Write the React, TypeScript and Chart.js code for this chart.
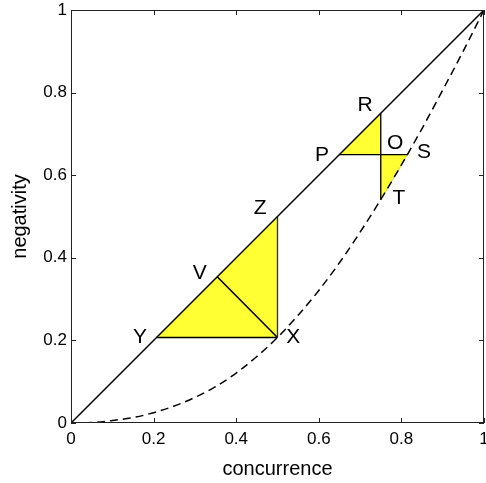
import React, { useEffect, useRef } from 'react';
import { Chart, registerables } from 'chart.js';

Chart.register(...registerables);

// Axis ticks
const xTicks = [0, 0.2, 0.4, 0.6, 0.8, 1];
const yTicks = [0, 0.2, 0.4, 0.6, 0.8, 1];

// Upper bound: negativity = concurrence (solid line)
const diagonalC = [0, 1];
const diagonalN = [0, 1];

// Lower bound (dashed curve)
const boundC = [0, 0.05, 0.1, 0.15, 0.2, 0.25, 0.3, 0.35, 0.4, 0.45, 0.5, 0.55, 0.6, 0.65, 0.7, 0.75, 0.8, 0.85, 0.9, 0.95, 1];
const boundN = [0, 0.001, 0.006, 0.013, 0.025, 0.041, 0.062, 0.088, 0.121, 0.161, 0.207, 0.261, 0.321, 0.388, 0.462, 0.541, 0.625, 0.713, 0.806, 0.901, 1];

// Yellow triangles (vertex coordinates)
const triYXZ_C = [0.207, 0.5, 0.5];
const triYXZ_N = [0.207, 0.207, 0.5];
const triPOR_C = [0.65, 0.75, 0.75];
const triPOR_N = [0.65, 0.65, 0.75];
const triOST_C = [0.75, 0.815, 0.75];
const triOST_N = [0.65, 0.65, 0.54];

// Black segments
const segYX_C = [0.207, 0.5];
const segYX_N = [0.207, 0.207];
const segZX_C = [0.5, 0.5];
const segZX_N = [0.5, 0.207];
const segVX_C = [0.354, 0.5];
const segVX_N = [0.354, 0.207];
const segPS_C = [0.65, 0.815];
const segPS_N = [0.65, 0.65];
const segRT_C = [0.75, 0.75];
const segRT_N = [0.75, 0.54];

// Point labels
const pointNames = ['R', 'O', 'P', 'S', 'T', 'Z', 'V', 'Y', 'X'];
const pointLabelC = [0.712, 0.785, 0.608, 0.855, 0.794, 0.458, 0.312, 0.167, 0.538];
const pointLabelN = [0.770, 0.678, 0.649, 0.656, 0.545, 0.521, 0.363, 0.208, 0.208];

const FONT = '"Liberation Sans", Arial, Helvetica, sans-serif';
const YELLOW = '#ffff33';

const zip = (xs: number[], ys: number[]) => xs.map((x, i) => ({ x, y: ys[i] }));

const lineDs = (xs: number[], ys: number[], extra: any = {}) => ({
  type: 'line' as const,
  data: zip(xs, ys),
  borderColor: '#000',
  borderWidth: 1.3,
  pointRadius: 0,
  fill: false,
  tension: 0,
  order: 1,
  ...extra,
});

const triDs = (xs: number[], ys: number[]) => ({
  type: 'line' as const,
  data: zip([...xs, xs[0]], [...ys, ys[0]]),
  borderWidth: 0.8,
  borderColor: '#c8c830',
  backgroundColor: YELLOW,
  pointRadius: 0,
  fill: 'shape',
  tension: 0,
  order: 2,
});

const framePlugin = {
  id: 'frameAndLabels',
  afterDatasetsDraw(chart: any) {
    const { ctx, chartArea, scales } = chart;
    const { left, right, top, bottom } = chartArea;
    const xs = scales.x;
    const ys = scales.y;
    ctx.save();
    // point labels
    ctx.fillStyle = '#000';
    ctx.font = `21px ${FONT}`;
    ctx.textAlign = 'center';
    ctx.textBaseline = 'middle';
    pointNames.forEach((name, i) => {
      ctx.fillText(name, xs.getPixelForValue(pointLabelC[i]), ys.getPixelForValue(pointLabelN[i]));
    });
    // frame
    ctx.strokeStyle = '#222';
    ctx.lineWidth = 1;
    ctx.strokeRect(Math.round(left) + 0.5, Math.round(top) + 0.5, Math.round(right - left) - 1, Math.round(bottom - top) - 1);
    // inward ticks
    const tl = 5;
    ctx.beginPath();
    xTicks.forEach((v) => {
      const px = Math.round(xs.getPixelForValue(v)) + 0.5;
      ctx.moveTo(px, bottom);
      ctx.lineTo(px, bottom - tl);
      ctx.moveTo(px, top);
      ctx.lineTo(px, top + tl);
    });
    yTicks.forEach((v) => {
      const py = Math.round(ys.getPixelForValue(v)) + 0.5;
      ctx.moveTo(left, py);
      ctx.lineTo(left + tl, py);
      ctx.moveTo(right, py);
      ctx.lineTo(right - tl, py);
    });
    ctx.stroke();
    ctx.restore();
  },
};

export default function App() {
  const canvasRef = useRef<HTMLCanvasElement | null>(null);

  useEffect(() => {
    document.body.style.margin = '0';
    const canvas = canvasRef.current;
    if (!canvas) return;
    const tickFont = { family: FONT, size: 17 };
    const titleFont = { family: FONT, size: 20, lineHeight: 1.2 };
    const chart = new Chart(canvas, {
      type: 'line',
      data: {
        datasets: [
          lineDs(diagonalC, diagonalN, { borderWidth: 1.5 }),
          lineDs(boundC, boundN, { borderWidth: 1.5, borderDash: [8, 5], cubicInterpolationMode: 'monotone' }),
          lineDs(segYX_C, segYX_N),
          lineDs(segZX_C, segZX_N, { borderColor: '#333' }),
          lineDs(segVX_C, segVX_N, { borderWidth: 1.6 }),
          lineDs(segPS_C, segPS_N),
          lineDs(segRT_C, segRT_N),
          triDs(triYXZ_C, triYXZ_N),
          triDs(triPOR_C, triPOR_N),
          triDs(triOST_C, triOST_N),
        ] as any,
      },
      options: {
        animation: false,
        responsive: false,
        devicePixelRatio: 1,
        layout: { padding: { top: 10, right: 2, left: 0, bottom: 0 } },
        plugins: {
          legend: { display: false },
          tooltip: { enabled: false },
        },
        scales: {
          x: {
            type: 'linear',
            min: 0,
            max: 1,
            afterBuildTicks: (s: any) => {
              s.ticks = xTicks.map((v) => ({ value: v }));
            },
            afterFit: (s: any) => {
              s.height = 60;
              s.paddingLeft = 0;
              s.paddingRight = 0;
            },
            grid: { display: false, drawTicks: false },
            border: { display: false },
            ticks: {
              padding: 6,
              color: '#000',
              font: tickFont,
              autoSkip: false,
              maxRotation: 0,
              callback: (v: any) => String(v),
            },
            title: {
              display: true,
              text: 'concurrence',
              color: '#000',
              font: titleFont,
              padding: { top: 0, bottom: 2 },
            },
          },
          y: {
            type: 'linear',
            min: 0,
            max: 1,
            afterBuildTicks: (s: any) => {
              s.ticks = yTicks.map((v) => ({ value: v }));
            },
            afterFit: (s: any) => {
              s.width = 71;
              s.paddingTop = 0;
              s.paddingBottom = 0;
            },
            grid: { display: false, drawTicks: false },
            border: { display: false },
            ticks: {
              padding: 4,
              color: '#000',
              font: tickFont,
              autoSkip: false,
              callback: (v: any) => String(v),
            },
            title: {
              display: true,
              text: 'negativity',
              color: '#000',
              font: titleFont,
              padding: { top: 8, bottom: 0 },
            },
          },
        },
      } as any,
      plugins: [framePlugin],
    });
    return () => chart.destroy();
  }, []);

  return (
    <div style={{ width: 486, height: 483 }}>
      <canvas ref={canvasRef} width={486} height={483} style={{ display: 'block' }} />
    </div>
  );
}
